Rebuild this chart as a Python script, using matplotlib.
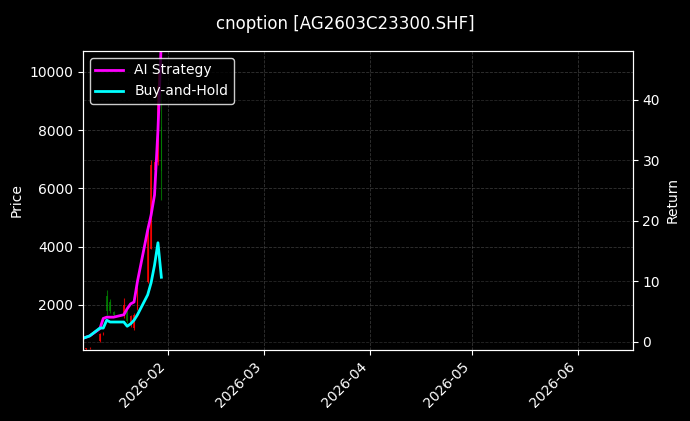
import pandas as pd
import numpy as np
import matplotlib
matplotlib.use("Agg")
import matplotlib.pyplot as plt
import matplotlib.dates as mdates

# === データ ===
dates = pd.to_datetime([
    "2026-01-07", "2026-01-08", "2026-01-09", "2026-01-12", "2026-01-13", "2026-01-14", "2026-01-15",
    "2026-01-16", "2026-01-19", "2026-01-20", "2026-01-21", "2026-01-22", "2026-01-23",
    "2026-01-26", "2026-01-27", "2026-01-28", "2026-01-29", "2026-01-30",
])
open_ = [470, 480, 500, 750, 1000, 2300, 2100, 1750, 1600, 1800, 1300, 1200, 1850, 2800, 3900, 6640, 6900, 8100]
high = [500, 520, 560, 1040, 1050, 2520, 2200, 1800, 2240, 1830, 1660, 1720, 2620, 4820, 6990, 6990, 10000, 9290]
low = [450, 460, 480, 730, 980, 1660, 1720, 1600, 1550, 1380, 1240, 1140, 1830, 2760, 3900, 6640, 6800, 5610]
close = [480, 500, 520, 1000, 1010, 1800, 1800, 1650, 2000, 1450, 1600, 1650, 2500, 4700, 6800, 6900, 9500, 6600]

ai_return = [0.6, 0.8, 1.0, 2.2, 3.9, 4.1, 4.1, 4.1, 4.5, 5.5, 6.3, 6.6, 10.0, 18.5, 21.0, 24.3, 35.0, 50.0]
bh_return = [0.6, 0.8, 1.0, 2.3, 2.3, 3.6, 3.3, 3.3, 3.3, 2.6, 3.0, 3.6, 4.5, 7.8, 9.8, 12.7, 16.4, 10.7]

plt.style.use("dark_background")
fig = plt.figure(figsize=(6.9, 4.21), dpi=100)
ax = fig.add_axes([0.120, 0.169, 0.797, 0.710])
ax2 = ax.twinx()

# --- ローソク足 ---
for d, o, h, l, c in zip(dates, open_, high, low, close):
    col = "red" if c >= o else "green"
    ax.vlines(d, l, h, color=col, linewidth=0.8, alpha=0.8)
    ax.bar(d, abs(c - o), bottom=min(o, c), width=0.5, color=col, alpha=0.8)

# --- リターン ---
ax2.plot(dates, ai_return, color="#ff00ff", linewidth=2, label="AI Strategy")
ax2.plot(dates, bh_return, color="#00ffff", linewidth=2, label="Buy-and-Hold")

ax.set_ylim(453, 10720)
ax2.set_ylim(-1.3, 48.1)
ax.set_xlim(pd.Timestamp("2026-01-07"), pd.Timestamp("2026-06-17"))
ax.xaxis.set_major_locator(mdates.MonthLocator())
ax.xaxis.set_major_formatter(mdates.DateFormatter("%Y-%m"))
plt.setp(ax.get_xticklabels(), rotation=45, ha="right")

ax.set_ylabel("Price")
ax2.set_ylabel("Return")
ax.grid(True, linestyle="--", color="gray", alpha=0.4, linewidth=0.6)
ax2.grid(True, linestyle="--", color="gray", alpha=0.3, linewidth=0.6)

fig.suptitle("cnoption [AG2603C23300.SHF]", fontsize=12, y=0.965)
ax2.legend(loc="upper left", framealpha=0.8, edgecolor="white")

plt.savefig("out.png", dpi=100)
plt.close()
